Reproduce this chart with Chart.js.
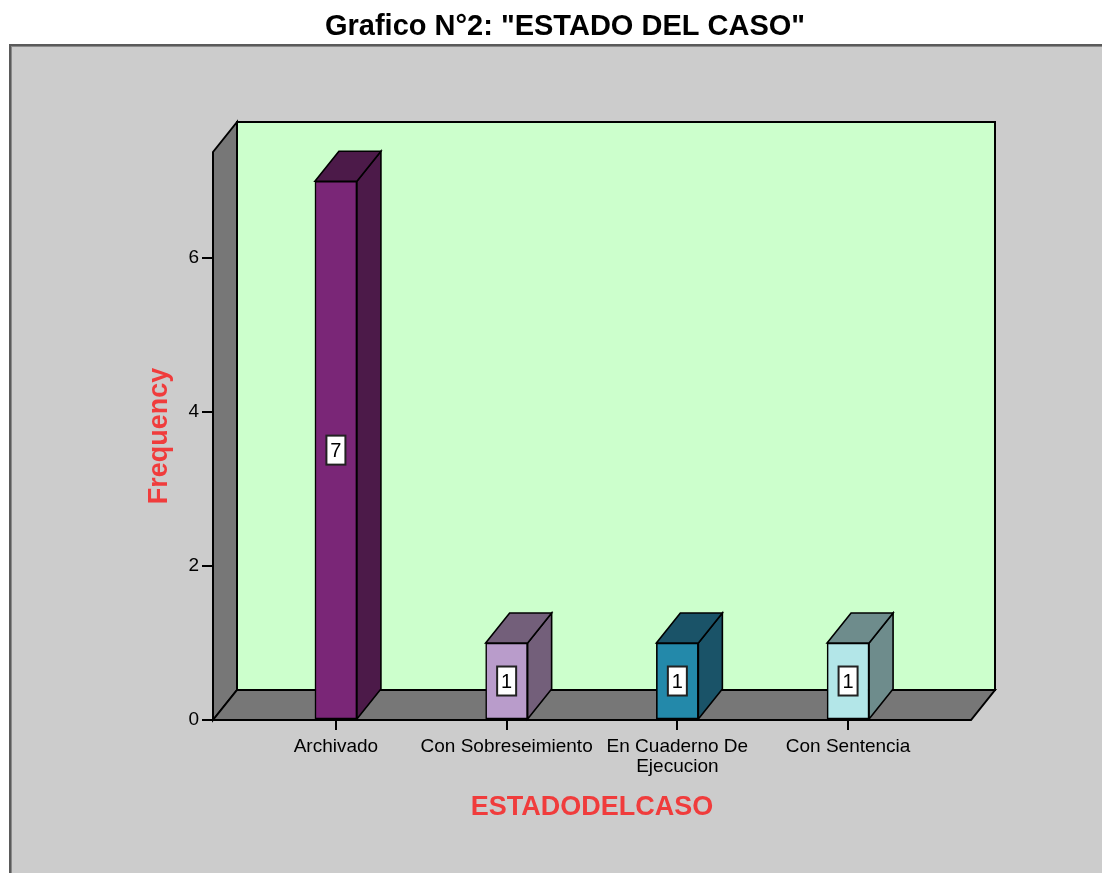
<!DOCTYPE html>
<html>
<head>
<meta charset="utf-8">
<script src="https://cdn.jsdelivr.net/npm/chart.js@4/dist/chart.umd.min.js"></script>
<style>
  html, body { margin: 0; padding: 0; background: #ffffff; }
  #wrap { width: 1102px; height: 873px; position: relative; }
</style>
</head>
<body>
<div id="wrap"><canvas id="c" width="1102" height="873"></canvas></div>
<script>
const titleText = 'Grafico N°2: "ESTADO DEL CASO"';
const categories = ['Archivado', 'Con Sobreseimiento', ['En Cuaderno De', 'Ejecucion'], 'Con Sentencia'];
const frequencies = [7, 1, 1, 1];
const frontColors = ['#7a2677', '#b99ccb', '#2389aa', '#b3e6e8'];
const sideColors = ['#4c1a49', '#735f7a', '#1a5368', '#6e8c8c'];
const yTickValues = [0, 2, 4, 6];
const yAxisTitle = 'Frequency';
const xAxisTitle = 'ESTADODELCASO';

const DX = 24, DY = -30;
const FONT = '"Liberation Sans", Arial, sans-serif';

const panelPlugin = {
  id: 'panel',
  beforeDraw(chart) {
    const ctx = chart.ctx;
    ctx.save();
    ctx.fillStyle = '#ffffff';
    ctx.fillRect(0, 0, chart.width, chart.height);
    ctx.fillStyle = '#cccccc';
    ctx.fillRect(9, 44, chart.width - 9, chart.height - 44);
    ctx.fillStyle = '#5a5a5a';
    ctx.fillRect(9, 44, chart.width - 9, 2);
    ctx.fillRect(9, 44, 2, chart.height - 44);
    ctx.fillStyle = '#8a8a8a';
    ctx.fillRect(11, 46, chart.width - 11, 1);
    ctx.fillRect(11, 46, 1, chart.height - 46);
    ctx.fillStyle = '#000000';
    ctx.font = 'bold 29px ' + FONT;
    ctx.textAlign = 'center';
    ctx.textBaseline = 'middle';
    ctx.fillText(titleText, 565, 27);
    ctx.restore();
  }
};

function poly(ctx, pts, fill) {
  ctx.beginPath();
  ctx.moveTo(pts[0][0], pts[0][1]);
  for (let i = 1; i < pts.length; i++) ctx.lineTo(pts[i][0], pts[i][1]);
  ctx.closePath();
  ctx.fillStyle = fill;
  ctx.fill();
  ctx.stroke();
}

const box3dPlugin = {
  id: 'box3d',
  beforeDatasetsDraw(chart) {
    const {ctx, chartArea: a} = chart;
    ctx.save();
    ctx.lineWidth = 2;
    ctx.strokeStyle = '#000000';
    ctx.lineJoin = 'miter';
    poly(ctx, [[a.left + DX, a.top + DY], [a.right + DX, a.top + DY], [a.right + DX, a.bottom + DY], [a.left + DX, a.bottom + DY]], '#ccffcc');
    poly(ctx, [[a.left, a.top], [a.left + DX, a.top + DY], [a.left + DX, a.bottom + DY], [a.left, a.bottom]], '#777777');
    poly(ctx, [[a.left, a.bottom], [a.left + DX, a.bottom + DY], [a.right + DX, a.bottom + DY], [a.right, a.bottom]], '#777777');
    ctx.restore();
  },
  afterDatasetsDraw(chart) {
    const ctx = chart.ctx;
    const meta = chart.getDatasetMeta(0);
    ctx.save();
    ctx.lineWidth = 1.6;
    ctx.strokeStyle = '#000000';
    meta.data.forEach((bar, i) => {
      const {x, y, base, width} = bar.getProps(['x', 'y', 'base', 'width'], true);
      const l = x - width / 2, r = x + width / 2;
      poly(ctx, [[r, y], [r + DX, y + DY], [r + DX, base + DY], [r, base]], sideColors[i]);
      poly(ctx, [[l, y], [l + DX, y + DY], [r + DX, y + DY], [r, y]], sideColors[i]);
      const cy = (y + base) / 2;
      const bw = 19, bh = 29;
      ctx.fillStyle = '#ffffff';
      ctx.lineWidth = 2;
      ctx.strokeStyle = '#222222';
      ctx.fillRect(x - bw / 2, cy - bh / 2, bw, bh);
      ctx.strokeRect(x - bw / 2, cy - bh / 2, bw, bh);
      ctx.fillStyle = '#000000';
      ctx.font = '20px ' + FONT;
      ctx.textAlign = 'center';
      ctx.textBaseline = 'middle';
      ctx.fillText(String(frequencies[i]), x, cy + 1);
      ctx.lineWidth = 1.6;
      ctx.strokeStyle = '#000000';
    });
    ctx.restore();
  }
};

const ctx = document.getElementById('c').getContext('2d');
new Chart(ctx, {
  type: 'bar',
  data: {
    datasets: [{
      data: frequencies.map((v, i) => ({x: i, y: v})),
      backgroundColor: frontColors,
      borderColor: '#000000',
      borderWidth: 1.6,
      borderSkipped: false,
      barThickness: 42
    }]
  },
  options: {
    responsive: false,
    animation: false,
    events: [],
    layout: { padding: { left: 10, right: 131, top: 152, bottom: 0 } },
    plugins: {
      legend: { display: false },
      tooltip: { enabled: false },
      title: { display: false }
    },
    scales: {
      x: {
        type: 'linear',
        offset: false,
        min: -0.72,
        max: 3.72,
        afterFit: s => { s.height = 153; },
        afterBuildTicks: s => { s.ticks = categories.map((c, i) => ({value: i})); },
        border: { display: false },
        grid: { offset: false, drawOnChartArea: false, drawTicks: true, tickLength: 10, color: '#000000', lineWidth: 2 },
        ticks: {
          callback: v => categories[v],
          color: '#000000',
          padding: 7,
          maxRotation: 0,
          autoSkip: false,
          font: { family: FONT, size: 19, lineHeight: 1.05 }
        },
        title: {
          display: true,
          text: xAxisTitle,
          color: '#f03c3c',
          font: { family: FONT, size: 27, weight: 'bold' },
          padding: { top: 0, bottom: 49 }
        }
      },
      y: {
        min: 0,
        max: 7.38,
        afterFit: s => { s.width = 203; },
        afterBuildTicks: s => { s.ticks = yTickValues.map(v => ({value: v})); },
        border: { display: false },
        grid: { drawOnChartArea: false, drawTicks: true, tickLength: 11, color: '#000000', lineWidth: 2 },
        ticks: {
          color: '#000000',
          padding: 3,
          font: { family: FONT, size: 19 }
        },
        title: {
          display: true,
          text: yAxisTitle,
          color: '#f03c3c',
          font: { family: FONT, size: 27, weight: 'bold' },
          padding: { top: 133, bottom: 0 }
        }
      }
    }
  },
  plugins: [panelPlugin, box3dPlugin]
});
</script>
</body>
</html>
